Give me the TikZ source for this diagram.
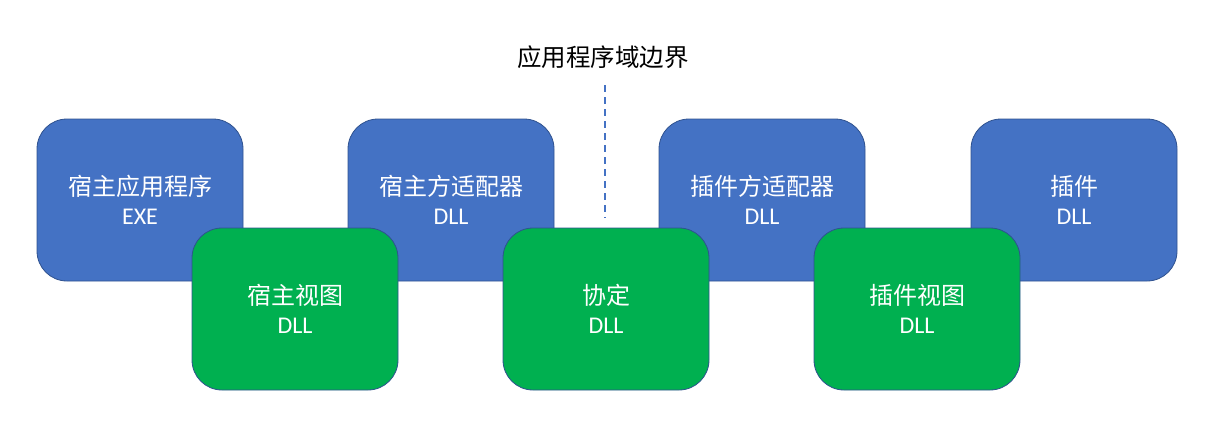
\documentclass[tikz,border=0pt]{standalone}
\usepackage{fontspec}
\setmainfont{Carlito}
\newfontfamily\cjk{Noto Sans CJK SC}
\definecolor{bluefill}{HTML}{4472C4}
\definecolor{greenfill}{HTML}{00B050}
\definecolor{edgeblue}{HTML}{2F528F}
\begin{document}
\begin{tikzpicture}[x=1pt,y=-1pt,
  boxbase/.style={rounded corners=30pt, minimum width=206pt, minimum height=162pt, draw=edgeblue, line width=0.8pt, text=white, align=center, inner sep=0pt, font=\fontsize{24}{29}\selectfont},
  bluebox/.style={boxbase, fill=bluefill},
  greenbox/.style={boxbase, fill=greenfill}]
\useasboundingbox (0,0) rectangle (1215,436);
\node[bluebox] (hostapp) at (140,200) {{\cjk 宿主应用程序}\\EXE};
\node[bluebox] (hostadapter) at (451,200) {{\cjk 宿主方适配器}\\DLL};
\node[bluebox] (addinadapter) at (762,200) {{\cjk 插件方适配器}\\DLL};
\node[bluebox] (addin) at (1074,200) {{\cjk 插件}\\DLL};
\node[greenbox] (hostview) at (295,309) {{\cjk 宿主视图}\\DLL};
\node[greenbox] (contract) at (606,309) {{\cjk 协定}\\DLL};
\node[greenbox] (addinview) at (917,309) {{\cjk 插件视图}\\DLL};
\node[font=\cjk\fontsize{24.5}{29}\selectfont] (boundary) at (603,57) {应用程序域边界};
\coordinate (dtop) at (605,85);
\coordinate (dbot) at (605,218);
\draw[bluefill, line width=1.5pt, dash pattern=on 7pt off 5pt] (dtop) -- (dbot);
\end{tikzpicture}
\end{document}
